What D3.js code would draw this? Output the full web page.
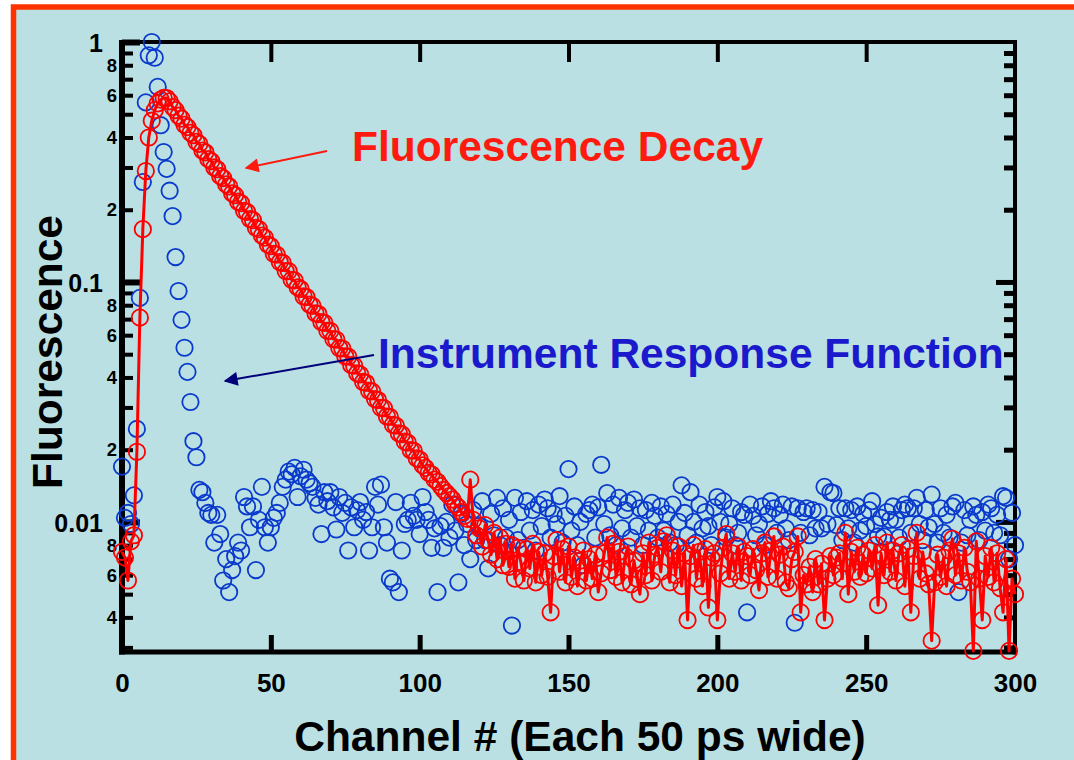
<!DOCTYPE html>
<html>
<head>
<meta charset="utf-8">
<script src="https://cdn.jsdelivr.net/npm/d3@7"></script>
<style>
  html, body { margin: 0; padding: 0; background: #ffffff; }
  svg { display: block; }
  text { font-family: "Liberation Sans", Arial, Helvetica, sans-serif; font-weight: bold; }
</style>
</head>
<body>
<svg id="chart" width="1074" height="760"></svg>
<script>
// Channel numbers (each channel is 50 ps wide)
const channels = d3.range(0, 301);

// Measured fluorescence decay, counts normalised to the IRF peak
const decay = [
  0.0075, 0.0071, 0.0057, 0.0083, 0.0088, 0.0196, 0.071, 0.166, 0.29, 0.40,
  0.47, 0.52, 0.555, 0.575, 0.585, 0.584, 0.566, 0.536, 0.52, 0.493,
  0.479, 0.452, 0.442, 0.418, 0.409, 0.384, 0.376, 0.353, 0.347, 0.325,
  0.319, 0.300, 0.295, 0.276, 0.271, 0.255, 0.250, 0.234, 0.230, 0.216,
  0.213, 0.198, 0.196, 0.183, 0.181, 0.168, 0.166, 0.156, 0.153, 0.143,
  0.141, 0.131, 0.130, 0.121, 0.120, 0.111, 0.111, 0.102, 0.1015, 0.095,
  0.0935, 0.087, 0.0865, 0.0805, 0.0795, 0.074, 0.0735, 0.068, 0.0675, 0.0625,
  0.0625, 0.0578, 0.0575, 0.053, 0.0528, 0.049, 0.0488, 0.045, 0.0448, 0.0416,
  0.0412, 0.0383, 0.038, 0.0352, 0.035, 0.0325, 0.0322, 0.0299, 0.0298, 0.0275,
  0.0274, 0.0254, 0.0252, 0.0234, 0.0232, 0.0216, 0.0214, 0.0199, 0.0198, 0.0184,
  0.0182, 0.0172, 0.0168, 0.0160, 0.0158, 0.0150, 0.0147, 0.0141, 0.0136, 0.0132,
  0.0128, 0.0124, 0.0118, 0.0115, 0.0110, 0.0106, 0.0103, 0.0150, 0.0102, 0.0088,
  0.0094, 0.0079, 0.0097, 0.0084, 0.0073, 0.0090, 0.0070, 0.0086, 0.0066, 0.0081,
  0.0065, 0.0080, 0.0058, 0.0078, 0.0068, 0.0057, 0.0077, 0.0064, 0.0081, 0.0056,
  0.0075, 0.0060, 0.0074, 0.0059, 0.0042, 0.0072, 0.0084, 0.0062, 0.0077, 0.0056,
  0.0079, 0.0059, 0.0071, 0.0054, 0.0069, 0.0076, 0.0057, 0.0070, 0.0058, 0.0073,
  0.0051, 0.0061, 0.0074, 0.0086, 0.0063, 0.0081, 0.0059, 0.0075, 0.0056, 0.0072,
  0.0079, 0.0055, 0.0069, 0.0058, 0.0050, 0.0074, 0.0060, 0.0082, 0.0057, 0.0073,
  0.0078, 0.0062, 0.0083, 0.0088, 0.0056, 0.0076, 0.0060, 0.0079, 0.0054, 0.0074,
  0.0039, 0.0072, 0.0080, 0.0058, 0.0075, 0.0054, 0.0077, 0.0044, 0.0071, 0.0074,
  0.0039, 0.0061, 0.0078, 0.0089, 0.0058, 0.0074, 0.0062, 0.0079, 0.0057, 0.0075,
  0.0072, 0.0060, 0.0077, 0.0063, 0.0052, 0.0074, 0.0082, 0.0059, 0.0076, 0.0087,
  0.0058, 0.0073, 0.0079, 0.0056, 0.0053, 0.0070, 0.0075, 0.0087, 0.0042, 0.0060,
  0.0055, 0.0065, 0.0051, 0.0070, 0.0055, 0.0067, 0.0039, 0.0058, 0.0072, 0.0060,
  0.0071, 0.0074, 0.0058, 0.0090, 0.0050, 0.0075, 0.0062, 0.0078, 0.0059, 0.0073,
  0.0061, 0.0076, 0.0064, 0.0080, 0.0045, 0.0074, 0.0060, 0.0082, 0.0062, 0.0076,
  0.0057, 0.0074, 0.0080, 0.0054, 0.0077, 0.0042, 0.0072, 0.0090, 0.0058, 0.0075,
  0.0061, 0.0055, 0.0032, 0.0056, 0.0073, 0.0059, 0.0071, 0.0054, 0.0076, 0.0085,
  0.0060, 0.0074, 0.0057, 0.0078, 0.0062, 0.0056, 0.0029, 0.0083, 0.0058, 0.0039,
  0.0072, 0.0059, 0.0078, 0.0056, 0.0074, 0.0053, 0.0042, 0.0070, 0.0029, 0.0058,
  0.0050
];

// Instrument response function (scatterer), same channels
const irf = [
  0.0170, 0.0104, 0.0109, 0.0098, 0.0129, 0.0244, 0.0858, 0.261, 0.56, 0.88,
  1.0, 0.86, 0.65, 0.45, 0.348, 0.296, 0.24, 0.188, 0.127, 0.0917,
  0.0695, 0.0532, 0.0422, 0.0316, 0.0217, 0.0186, 0.0136, 0.0133, 0.0120, 0.0109,
  0.0107, 0.0082, 0.0107, 0.0089, 0.0057, 0.0070, 0.0051, 0.0063, 0.0072, 0.0082,
  0.0076, 0.0127, 0.0116, 0.0095, 0.0116, 0.0063, 0.0102, 0.0140, 0.0095, 0.0082,
  0.0095, 0.0104, 0.0109, 0.0120, 0.0140, 0.0150, 0.0162, 0.0158, 0.0168, 0.0127,
  0.0155, 0.0165, 0.0150, 0.0145, 0.0140, 0.0126, 0.0118, 0.0089, 0.0133, 0.0122,
  0.0133, 0.0115, 0.0093, 0.0127, 0.0109, 0.0120, 0.0076, 0.0115, 0.0095, 0.0112,
  0.0121, 0.0102, 0.0110, 0.0076, 0.0095, 0.0140, 0.0118, 0.0143, 0.0095, 0.0082,
  0.0058, 0.0056, 0.0121, 0.0051, 0.0076, 0.0098, 0.0102, 0.0120, 0.0106, 0.0102,
  0.0089, 0.0127, 0.0110, 0.0102, 0.0078, 0.0094, 0.0051, 0.0096, 0.0078, 0.0100,
  0.0086, 0.0118, 0.0092, 0.0056, 0.0108, 0.0080, 0.0098, 0.0070, 0.0112, 0.0084,
  0.0096, 0.0122, 0.0084, 0.0064, 0.0108, 0.0088, 0.0126, 0.0080, 0.0114, 0.0086,
  0.0102, 0.0037, 0.0126, 0.0084, 0.0110, 0.0078, 0.0122, 0.0092, 0.0112, 0.0076,
  0.0118, 0.0096, 0.0124, 0.0114, 0.0086, 0.0108, 0.0098, 0.0128, 0.0082, 0.0106,
  0.0166, 0.0092, 0.0116, 0.0080, 0.0100, 0.0066, 0.0108, 0.0112, 0.0118, 0.0086,
  0.0115, 0.0173, 0.0098, 0.0132, 0.0088, 0.0118, 0.0080, 0.0126, 0.0094, 0.0112,
  0.0120, 0.0086, 0.0124, 0.0096, 0.0114, 0.0080, 0.0112, 0.0092, 0.0120, 0.0106,
  0.0086, 0.0116, 0.0092, 0.0108, 0.0082, 0.0118, 0.0080, 0.0100, 0.0142, 0.0109,
  0.0088, 0.0133, 0.0100, 0.0082, 0.0118, 0.0094, 0.0110, 0.0096, 0.0080, 0.0115,
  0.0127, 0.0100, 0.0122, 0.0086, 0.0098, 0.0114, 0.0080, 0.0090, 0.0110, 0.0107,
  0.0042, 0.0118, 0.0106, 0.0088, 0.0098, 0.0116, 0.0080, 0.0108, 0.0122, 0.0114,
  0.0090, 0.0107, 0.0118, 0.0094, 0.0084, 0.0116, 0.0038, 0.0114, 0.0090, 0.0110,
  0.0114, 0.0088, 0.0112, 0.0094, 0.0110, 0.0094, 0.0140, 0.0098, 0.0133, 0.0132,
  0.0097, 0.0114, 0.0084, 0.0114, 0.0094, 0.0112, 0.0082, 0.0116, 0.0092, 0.0108,
  0.0096, 0.0112, 0.0122, 0.0098, 0.0087, 0.0104, 0.0087, 0.0110, 0.0102, 0.0116,
  0.0102, 0.0086, 0.0112, 0.0118, 0.0114, 0.0090, 0.0114, 0.0126, 0.0098, 0.0084,
  0.0112, 0.0095, 0.0130, 0.0098, 0.0082, 0.0114, 0.0090, 0.0107, 0.0086, 0.0116,
  0.0120, 0.0051, 0.0082, 0.0112, 0.0088, 0.0102, 0.0116, 0.0107, 0.0084, 0.0110,
  0.0092, 0.0118, 0.0114, 0.0090, 0.0107, 0.0088, 0.0128, 0.0126, 0.0070, 0.0109,
  0.0080
];

// Axis ticks
const xTicks = [0, 50, 100, 150, 200, 250, 300];
const xInnerTicks = [50, 100, 150, 200, 250];
const yMajorTicks = [1, 0.1, 0.01];
const yMajorLabels = ["1", "0.1", "0.01"];
const yMinorTicks = [0.9, 0.8, 0.7, 0.6, 0.5, 0.4, 0.3, 0.2,
                     0.09, 0.08, 0.07, 0.06, 0.05, 0.04, 0.03, 0.02,
                     0.009, 0.008, 0.007, 0.006, 0.005, 0.004, 0.003];
const yMinorLabelDigits = [2, 4, 6, 8];

// Titles and annotations
const yTitle = "Fluorescence";
const xTitle = "Channel # (Each 50 ps wide)";
const decayNote = "Fluorescence Decay";
const irfNote = "Instrument Response Function";

const svg = d3.select("#chart");
const W = 1074, H = 760;
const plot = { left: 122, right: 1015, top: 42, bottom: 652 };

// Page background and frame
svg.append("rect").attr("x", 0).attr("y", 0).attr("width", W).attr("height", H).attr("fill", "#ffffff");
svg.append("rect").attr("x", 13.5).attr("y", 7).attr("width", W + 20).attr("height", H + 20)
  .attr("fill", "#bae0e3").attr("stroke", "#ff3300").attr("stroke-width", 5.5);

const x = d3.scaleLinear().domain([0, 300]).range([plot.left, plot.right]);
const y = d3.scaleLog().domain([0.00287, 1]).range([plot.bottom, plot.top]);

// ---------- axes ----------
function styleAxis(g, w) {
  g.select(".domain").remove();
  g.selectAll(".tick line").attr("stroke", "#000").attr("stroke-width", w);
}

// left: minor ticks with single-digit labels
const leftMinor = svg.append("g").attr("transform", `translate(${plot.left},0)`)
  .call(d3.axisLeft(y).tickValues(yMinorTicks).tickSize(-11).tickPadding(5)
    .tickFormat(d => {
      const m = Math.round(d / Math.pow(10, Math.floor(Math.log10(d) + 1e-9)));
      return yMinorLabelDigits.includes(m) ? String(m) : "";
    }));
styleAxis(leftMinor, 4);
leftMinor.selectAll("text").attr("font-size", 18.5).attr("fill", "#000");

// left: decades
const leftMajor = svg.append("g").attr("transform", `translate(${plot.left},0)`)
  .call(d3.axisLeft(y).tickValues(yMajorTicks).tickSize(-18).tickPadding(19)
    .tickFormat((d, i) => yMajorLabels[i]));
styleAxis(leftMajor, 6);
leftMajor.selectAll("text").attr("font-size", 25).attr("fill", "#000").attr("dy", "0.38em");

// right: minor + decades, no labels
const rightMinor = svg.append("g").attr("transform", `translate(${plot.right},0)`)
  .call(d3.axisRight(y).tickValues(yMinorTicks).tickSize(-11).tickFormat(""));
styleAxis(rightMinor, 5);
const rightMajor = svg.append("g").attr("transform", `translate(${plot.right},0)`)
  .call(d3.axisRight(y).tickValues(yMajorTicks.slice(1)).tickSize(-19).tickFormat(""));
styleAxis(rightMajor, 5);

// top: inward ticks
const topAxis = svg.append("g").attr("transform", `translate(0,${plot.top})`)
  .call(d3.axisTop(x).tickValues(xInnerTicks).tickSize(-20).tickFormat(""));
styleAxis(topAxis, 4);

// bottom: inward ticks with labels
const bottomAxis = svg.append("g").attr("transform", `translate(0,${plot.bottom})`)
  .call(d3.axisBottom(x).tickValues(xTicks).tickSizeInner(-17).tickSizeOuter(0).tickPadding(22)
    .tickFormat(d3.format("d")));
styleAxis(bottomAxis, 5);
bottomAxis.selectAll(".tick").filter(d => d === 0 || d === 300).select("line").remove();
bottomAxis.selectAll("text").attr("font-size", 26).attr("fill", "#000");

// frame lines
svg.append("line").attr("x1", plot.left).attr("x2", plot.left).attr("y1", plot.top - 2).attr("y2", plot.bottom + 2.5)
  .attr("stroke", "#000").attr("stroke-width", 6);
svg.append("line").attr("x1", plot.right).attr("x2", plot.right).attr("y1", plot.top - 2).attr("y2", plot.bottom + 2.5)
  .attr("stroke", "#000").attr("stroke-width", 4);
svg.append("line").attr("x1", plot.left - 3).attr("x2", plot.right + 2).attr("y1", plot.top).attr("y2", plot.top)
  .attr("stroke", "#000").attr("stroke-width", 4);
svg.append("line").attr("x1", plot.left - 3).attr("x2", plot.right + 2).attr("y1", plot.bottom).attr("y2", plot.bottom)
  .attr("stroke", "#000").attr("stroke-width", 5);

// ---------- data ----------
const irfPts = channels.map((c, i) => ({ c, v: irf[i] }));
const decayPts = channels.map((c, i) => ({ c, v: decay[i] }));

svg.append("g").selectAll("circle").data(irfPts).join("circle")
  .attr("cx", d => x(d.c)).attr("cy", d => y(d.v)).attr("r", 8.2)
  .attr("fill", "none").attr("stroke", "#0a3acc").attr("stroke-width", 1.8);

svg.append("path").datum(decayPts)
  .attr("d", d3.line().x(d => x(d.c)).y(d => y(d.v)))
  .attr("fill", "none").attr("stroke", "#ff0000").attr("stroke-width", 3).attr("stroke-linejoin", "round");

svg.append("g").selectAll("circle").data(decayPts).join("circle")
  .attr("cx", d => x(d.c)).attr("cy", d => y(d.v)).attr("r", 8.2)
  .attr("fill", "none").attr("stroke", "#ff0000").attr("stroke-width", 1.8);

// ---------- titles ----------
svg.append("text").attr("transform", "translate(62,352) rotate(-90)")
  .attr("text-anchor", "middle").attr("font-size", 42.5).attr("fill", "#000").text(yTitle);
svg.append("text").attr("x", 580).attr("y", 751)
  .attr("text-anchor", "middle").attr("font-size", 42.5).attr("fill", "#000").text(xTitle);

// ---------- annotations ----------
const defs = svg.append("defs");
function arrowHead(id, color) {
  defs.append("marker").attr("id", id).attr("viewBox", "0 0 10 10")
    .attr("refX", 9).attr("refY", 5).attr("markerWidth", 8.5).attr("markerHeight", 7)
    .attr("markerUnits", "strokeWidth").attr("orient", "auto")
    .append("path").attr("d", "M0,0 L10,5 L0,10 Z").attr("fill", color);
}
arrowHead("headRed", "#ff1a0f");
arrowHead("headBlue", "#00007a");

svg.append("text").attr("x", 352).attr("y", 161).attr("font-size", 42.5)
  .attr("fill", "#ff1a0f").text(decayNote);
svg.append("line").attr("x1", 327).attr("y1", 151).attr("x2", 246).attr("y2", 168)
  .attr("stroke", "#ff1a0f").attr("stroke-width", 2).attr("marker-end", "url(#headRed)");

svg.append("text").attr("x", 378).attr("y", 368).attr("font-size", 42.5)
  .attr("fill", "#1a1acc").text(irfNote);
svg.append("line").attr("x1", 374).attr("y1", 355).attr("x2", 225).attr("y2", 381)
  .attr("stroke", "#00007a").attr("stroke-width", 2).attr("marker-end", "url(#headBlue)");
</script>
</body>
</html>
